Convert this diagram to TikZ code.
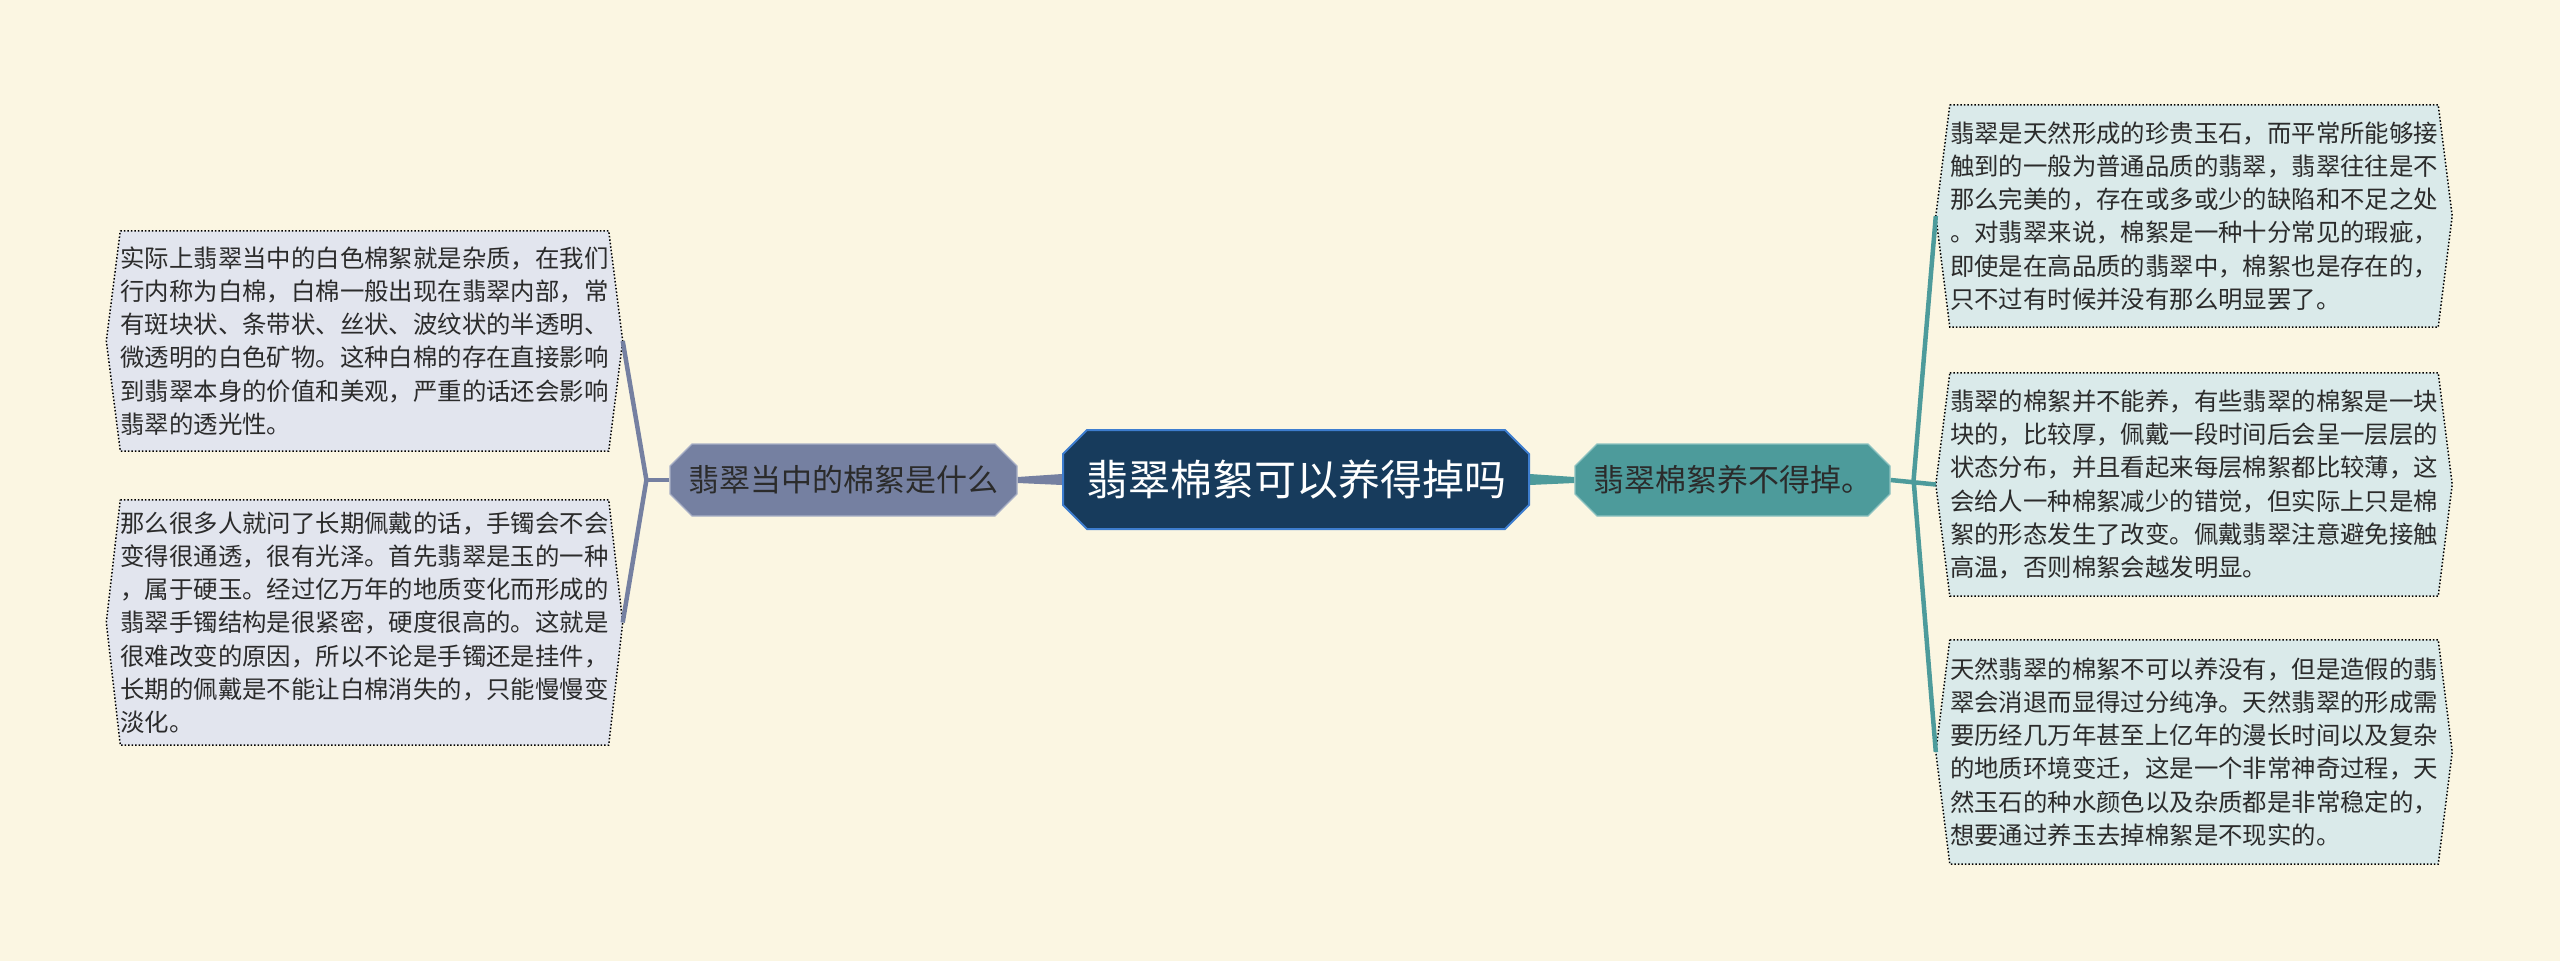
\documentclass[tikz,border=0pt]{standalone}
\usepackage{fontspec}
\setmainfont{Noto Sans CJK SC}
\usetikzlibrary{shapes.misc,calc,backgrounds}
\definecolor{bgc}{HTML}{FBF6E2}
\definecolor{cfill}{HTML}{173B5C}
\definecolor{cborder}{HTML}{3D7DCF}
\definecolor{lcol}{HTML}{7580A1}
\definecolor{lborder}{HTML}{A9B0C6}
\definecolor{rcol}{HTML}{4D9B9B}
\definecolor{rborder}{HTML}{8CC2C0}
\definecolor{leafL}{HTML}{E2E5EE}
\definecolor{leafR}{HTML}{DAEAEA}
\definecolor{txt}{HTML}{2B2B2B}
\tikzset{
  centralbox/.style={chamfered rectangle, chamfered rectangle xsep=12pt, chamfered rectangle ysep=12pt,
    fill=cfill, draw=cborder, line width=2pt,
    minimum width=466pt, minimum height=99pt, inner sep=0pt, text=white,
    font=\fontsize{42}{50}\selectfont},
  subbox/.style={chamfered rectangle, chamfered rectangle xsep=11pt, chamfered rectangle ysep=11pt,
    line width=1.2pt,
    minimum height=72pt, inner sep=0pt, text=txt, font=\fontsize{31}{38}\selectfont},
  leaftext/.style={inner xsep=0pt, inner ysep=0pt, align=left, text=txt,
    font=\fontsize{24.4}{33.2}\selectfont},
  leafline/.style={draw=black, dotted, line width=1.5pt},
  lconn/.style={draw=lcol, line width=4.5pt},
  rconn/.style={draw=rcol, line width=4.5pt},
}
\begin{document}
\begin{tikzpicture}[x=1pt,y=-1pt]
\begin{pgfonlayer}{background}
\fill[bgc] (0,0) rectangle (2560,961);
\end{pgfonlayer}
\useasboundingbox (0,0) rectangle (2560,961);

% main nodes
\node[centralbox] (c) at (1296,479.5) {翡翠棉絮可以养得掉吗};
\node[subbox, fill=lcol, draw=lborder, minimum width=347pt] (sl) at (843.5,480) {翡翠当中的棉絮是什么};
\node[subbox, fill=rcol, draw=rborder, minimum width=315pt] (sr) at (1732.5,480) {翡翠棉絮养不得掉。};

% leaves
\node[leaftext, minimum height=220pt] (l1) at (364.5,341) {实际上翡翠当中的白色棉絮就是杂质，在我们\\行内称为白棉，白棉一般出现在翡翠内部，常\\有斑块状、条带状、丝状、波纹状的半透明、\\微透明的白色矿物。这种白棉的存在直接影响\\到翡翠本身的价值和美观，严重的话还会影响\\翡翠的透光性。};
\node[leaftext, minimum height=245pt] (l2) at (364.5,622.5) {那么很多人就问了长期佩戴的话，手镯会不会\\变得很通透，很有光泽。首先翡翠是玉的一种\\，属于硬玉。经过亿万年的地质变化而形成的\\翡翠手镯结构是很紧密，硬度很高的。这就是\\很难改变的原因，所以不论是手镯还是挂件，\\长期的佩戴是不能让白棉消失的，只能慢慢变\\淡化。};
\node[leaftext, minimum height=222pt] (r1) at (2194,216) {翡翠是天然形成的珍贵玉石，而平常所能够接\\触到的一般为普通品质的翡翠，翡翠往往是不\\那么完美的，存在或多或少的缺陷和不足之处\\。对翡翠来说，棉絮是一种十分常见的瑕疵，\\即使是在高品质的翡翠中，棉絮也是存在的，\\只不过有时候并没有那么明显罢了。};
\node[leaftext, minimum height=223pt] (r2) at (2194,484.5) {翡翠的棉絮并不能养，有些翡翠的棉絮是一块\\块的，比较厚，佩戴一段时间后会呈一层层的\\状态分布，并且看起来每层棉絮都比较薄，这\\会给人一种棉絮减少的错觉，但实际上只是棉\\絮的形态发生了改变。佩戴翡翠注意避免接触\\高温，否则棉絮会越发明显。};
\node[leaftext, minimum height=224pt] (r3) at (2194,752) {天然翡翠的棉絮不可以养没有，但是造假的翡\\翠会消退而显得过分纯净。天然翡翠的形成需\\要历经几万年甚至上亿年的漫长时间以及复杂\\的地质环境变迁，这是一个非常神奇过程，天\\然玉石的种水颜色以及杂质都是非常稳定的，\\想要通过养玉去掉棉絮是不现实的。};

% leaf tips
\foreach \n in {l1,l2,r1,r2,r3}{
  \coordinate (\n e) at ($(\n.east)+(14,0)$);
  \coordinate (\n w) at ($(\n.west)+(-14,0)$);
}

\begin{pgfonlayer}{background}
\foreach \n in {l1,l2}{
  \draw[leafline, fill=leafL] (\n.north west) -- (\n.north east) -- (\n e) -- (\n.south east) -- (\n.south west) -- (\n w) -- cycle;
}
\foreach \n in {r1,r2,r3}{
  \draw[leafline, fill=leafR] (\n.north west) -- (\n.north east) -- (\n e) -- (\n.south east) -- (\n.south west) -- (\n w) -- cycle;
}
% tapered connectors
\fill[lcol] ($(c.west)+(0,-5.5)$) -- ($(sl.east)+(0,-3)$) -- ($(sl.east)+(0,3)$) -- ($(c.west)+(0,5.5)$) -- cycle;
\fill[rcol] ($(c.east)+(0,-5.5)$) -- ($(sr.west)+(0,-3)$) -- ($(sr.west)+(0,3)$) -- ($(c.east)+(0,5.5)$) -- cycle;
% branch connectors
\coordinate (lf) at ($(sl.west)+(-23,0)$);
\coordinate (rf) at ($(sr.east)+(23,0)$);
\draw[lconn] (sl.west) -- (lf);
\draw[lconn, line join=round] (l1e) -- (lf) -- (l2e);
\draw[rconn] (sr.east) -- (r2w);
\draw[rconn, line join=round] (r1w) -- (rf) -- (r3w);
\end{pgfonlayer}
\end{tikzpicture}
\end{document}
